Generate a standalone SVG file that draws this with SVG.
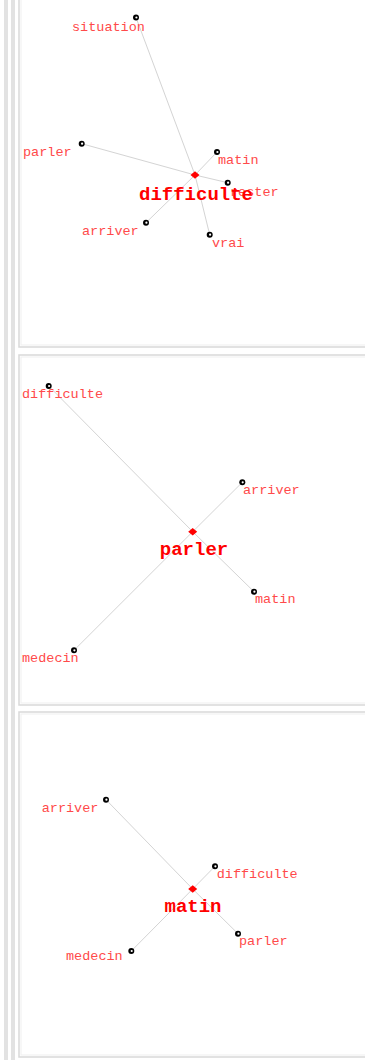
<svg xmlns="http://www.w3.org/2000/svg" width="365" height="1060" viewBox="0 0 365 1060">
<style>
.bar{fill:#e2e2e2}
.pan{fill:#fff;stroke:#d9d9d9;stroke-width:1.5}
.pin{fill:none;stroke:#efefef;stroke-width:1}
.e{stroke:#d4d4d4;stroke-width:1;fill:none}
.lbl{font-family:"Liberation Mono","DejaVu Sans Mono",monospace;font-size:13.5px;fill:#ff4a4a}
.ctr{font-family:"Liberation Mono","DejaVu Sans Mono",monospace;font-size:19px;font-weight:bold;fill:#f00;text-anchor:middle}
.cd{fill:#f00}
</style>
<defs>
<g id="dot"><circle r="3" fill="#000"/><circle cx="0.4" cy="0" r="1.1" fill="#fff"/></g>
<path id="hub" d="M-4.5,0 L0,-3.8 L4.5,0 L0,3.8 Z"/>
</defs>
<rect width="365" height="1060" fill="#fff"/>
<rect class="bar" x="4" y="0" width="4" height="1060"/>
<rect class="bar" x="11" y="0" width="4" height="1060"/>

<g id="panel1">
<rect class="pan" x="19" y="-10" width="360" height="357"/>
<rect class="pin" x="21" y="-8" width="356" height="353"/>
</g>
<g id="panel2">
<rect class="pan" x="19" y="355" width="360" height="350"/>
<rect class="pin" x="21" y="357" width="356" height="346"/>
</g>
<g id="panel3">
<rect class="pan" x="19" y="712" width="360" height="345"/>
<rect class="pin" x="21" y="714" width="356" height="341"/>
</g>

<g id="connectors">
<line class="e" x1="195" y1="175" x2="136" y2="17.5"/>
<line class="e" x1="195" y1="175" x2="81.7" y2="143.7"/>
<line class="e" x1="195" y1="175" x2="217" y2="152"/>
<line class="e" x1="195" y1="175" x2="227.7" y2="182.7"/>
<line class="e" x1="195" y1="175" x2="146" y2="222.7"/>
<line class="e" x1="195" y1="175" x2="209.7" y2="234.7"/>

<line class="e" x1="192.7" y1="531.7" x2="48.7" y2="386"/>
<line class="e" x1="192.7" y1="531.7" x2="242.3" y2="482.3"/>
<line class="e" x1="192.7" y1="531.7" x2="254" y2="591.7"/>
<line class="e" x1="192.7" y1="531.7" x2="74" y2="650.3"/>

<line class="e" x1="192.7" y1="889" x2="106" y2="799.7"/>
<line class="e" x1="192.7" y1="889" x2="215" y2="866.3"/>
<line class="e" x1="192.7" y1="889" x2="238" y2="933.7"/>
<line class="e" x1="192.7" y1="889" x2="131.3" y2="951"/>
</g>

<g id="p1-situation"><use href="#dot" x="136" y="17.5"/><text class="lbl" x="72" y="31">situation</text></g>
<g id="p1-parler"><use href="#dot" x="81.7" y="143.7"/><text class="lbl" x="23" y="156">parler</text></g>
<g id="p1-matin"><use href="#dot" x="217" y="152"/><text class="lbl" x="218" y="164">matin</text></g>
<g id="p1-rester"><use href="#dot" x="227.7" y="182.7"/><text class="lbl" x="230" y="196">rester</text></g>
<g id="p1-arriver"><use href="#dot" x="146" y="222.7"/><text class="lbl" x="82" y="234.5">arriver</text></g>
<g id="p1-vrai"><use href="#dot" x="209.7" y="234.7"/><text class="lbl" x="212" y="246.5">vrai</text></g>
<g id="p1-difficulte"><use href="#hub" class="cd" x="195" y="175"/><text class="ctr" x="196" y="199.5">difficulte</text></g>

<g id="p2-difficulte"><use href="#dot" x="48.7" y="386"/><text class="lbl" x="22" y="397.7">difficulte</text></g>
<g id="p2-arriver"><use href="#dot" x="242.3" y="482.3"/><text class="lbl" x="243" y="494">arriver</text></g>
<g id="p2-matin"><use href="#dot" x="254" y="591.7"/><text class="lbl" x="255" y="603.3">matin</text></g>
<g id="p2-medecin"><use href="#dot" x="74" y="650.3"/><text class="lbl" x="22" y="661.7">medecin</text></g>
<g id="p2-parler"><use href="#hub" class="cd" x="192.7" y="531.7"/><text class="ctr" x="194" y="555">parler</text></g>

<g id="p3-arriver"><use href="#dot" x="106" y="799.7"/><text class="lbl" x="41.7" y="811.7">arriver</text></g>
<g id="p3-difficulte"><use href="#dot" x="215" y="866.3"/><text class="lbl" x="216.7" y="877.7">difficulte</text></g>
<g id="p3-parler"><use href="#dot" x="238" y="933.7"/><text class="lbl" x="239" y="945">parler</text></g>
<g id="p3-medecin"><use href="#dot" x="131.3" y="951"/><text class="lbl" x="66" y="960">medecin</text></g>
<g id="p3-matin"><use href="#hub" class="cd" x="192.7" y="889"/><text class="ctr" x="193" y="911.7">matin</text></g>
</svg>
